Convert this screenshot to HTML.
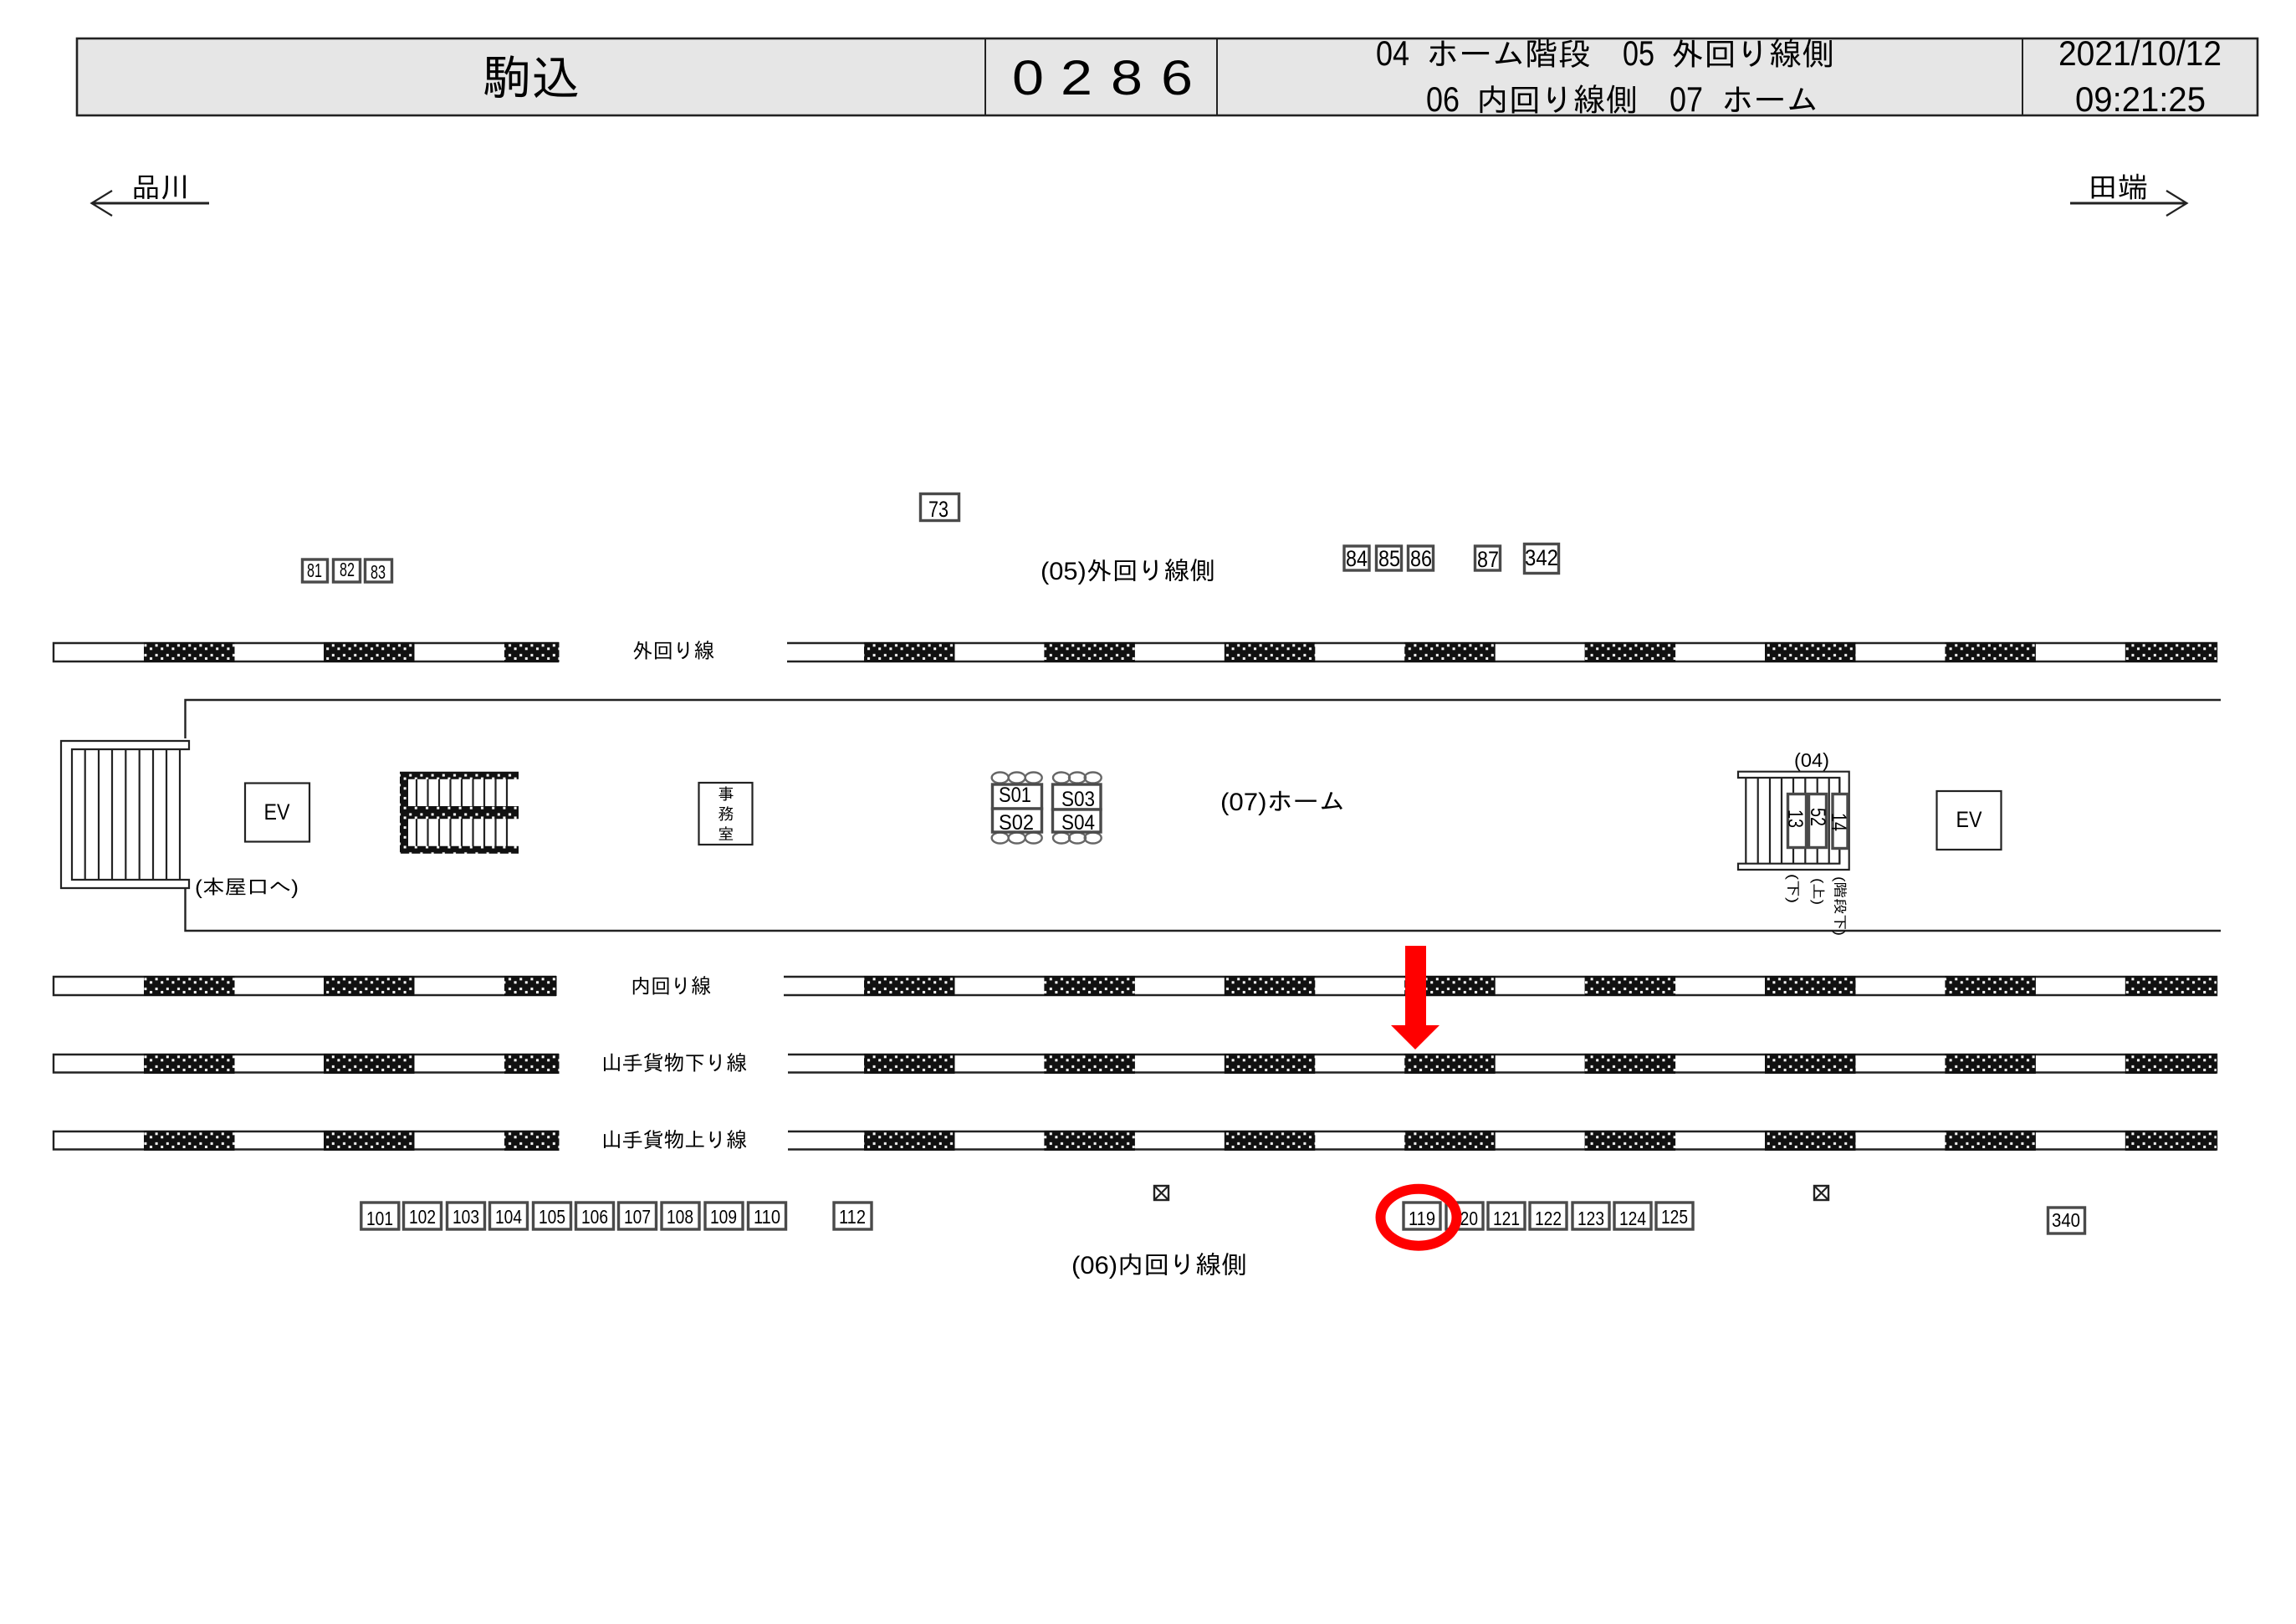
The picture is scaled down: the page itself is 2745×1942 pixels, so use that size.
<!DOCTYPE html>
<html lang="ja"><head><meta charset="utf-8"><title>駒込</title>
<style>
html,body{margin:0;padding:0;background:#fff;width:2745px;height:1942px;overflow:hidden}
svg{display:block}
text{font-family:"Liberation Sans","IPAGothic",sans-serif;fill:#000}
.b{fill:#fff;stroke:#4a4a4a;stroke-width:3.4}
.l{fill:none;stroke:#222;stroke-width:2.2}
.r{fill:none;stroke:#222;stroke-width:2.4}
.c{fill:none;stroke:#666;stroke-width:2.4}
.n{font-size:23px;text-anchor:middle}
.m{font-size:27px;text-anchor:middle}
</style></head><body>
<svg width="2745" height="1942" viewBox="0 0 2745 1942" xmlns="http://www.w3.org/2000/svg">
<defs>
<pattern id="d" patternUnits="userSpaceOnUse" width="13.2" height="11.7">
<rect width="13.2" height="11.7" fill="#111"/>
<rect x="0.8" y="1.3" width="3" height="3" fill="#fff"/>
<rect x="7.4" y="5.3" width="3" height="3" fill="#fff"/>
</pattern>
<g id="dL"><rect x="172" y="-1" width="108.5" height="24" fill="url(#d)"/><rect x="387" y="-1" width="108.5" height="24" fill="url(#d)"/></g>
<g id="dR"><rect x="1033" y="-1" width="108.5" height="24" fill="url(#d)"/><rect x="1248.4" y="-1" width="108.5" height="24" fill="url(#d)"/><rect x="1463.8" y="-1" width="108.5" height="24" fill="url(#d)"/><rect x="1679.2" y="-1" width="108.5" height="24" fill="url(#d)"/><rect x="1894.6" y="-1" width="108.5" height="24" fill="url(#d)"/><rect x="2110" y="-1" width="108.5" height="24" fill="url(#d)"/><rect x="2325.4" y="-1" width="108.5" height="24" fill="url(#d)"/><rect x="2540.8" y="-1" width="109" height="24" fill="url(#d)"/></g>
</defs>
<rect width="2745" height="1942" fill="#fff"/>

<!-- header -->
<rect x="92" y="46" width="2607" height="92" fill="#e6e6e6" stroke="#222" stroke-width="2.6"/>
<path d="M1178 46V138M1455 46V138M2418 46V138" stroke="#222" stroke-width="2" fill="none"/>
<text x="577" y="113" font-size="57" textLength="116" lengthAdjust="spacingAndGlyphs">駒込</text>
<text x="1210" y="113" font-size="58" textLength="38" lengthAdjust="spacingAndGlyphs">0</text>
<text x="1268" y="113" font-size="58" textLength="38" lengthAdjust="spacingAndGlyphs">2</text>
<text x="1328" y="113" font-size="58" textLength="38" lengthAdjust="spacingAndGlyphs">8</text>
<text x="1388" y="113" font-size="58" textLength="38" lengthAdjust="spacingAndGlyphs">6</text>

<text x="1645" y="78" font-size="42" textLength="40" lengthAdjust="spacingAndGlyphs">04</text>
<text x="1705" y="78" font-size="38" textLength="197" lengthAdjust="spacingAndGlyphs">ホーム階段</text>
<text x="1940" y="78" font-size="42" textLength="38" lengthAdjust="spacingAndGlyphs">05</text>
<text x="1998" y="78" font-size="38" textLength="195" lengthAdjust="spacingAndGlyphs">外回り線側</text>
<text x="1705" y="133" font-size="42" textLength="40" lengthAdjust="spacingAndGlyphs">06</text>
<text x="1765" y="133" font-size="38" textLength="193" lengthAdjust="spacingAndGlyphs">内回り線側</text>
<text x="1996" y="133" font-size="42" textLength="40" lengthAdjust="spacingAndGlyphs">07</text>
<text x="2058" y="133" font-size="38" textLength="116" lengthAdjust="spacingAndGlyphs">ホーム</text>
<text x="2461" y="78" font-size="42" textLength="195" lengthAdjust="spacingAndGlyphs">2021/10/12</text>
<text x="2481" y="133" font-size="42" textLength="156" lengthAdjust="spacingAndGlyphs">09:21:25</text>

<!-- direction arrows -->
<path d="M250 243H110" stroke="#222" stroke-width="3" fill="none"/><path d="M134 228L109.500 243L134 258" class="l"/>
<text x="157" y="236" font-size="34" textLength="70" lengthAdjust="spacingAndGlyphs">品川</text>
<path d="M2475 243H2614" stroke="#222" stroke-width="3" fill="none"/><path d="M2590 228L2614.500 243L2590 258" class="l"/>
<text x="2496" y="236" font-size="34" textLength="72" lengthAdjust="spacingAndGlyphs">田端</text>

<!-- upper boxes -->
<rect class="b" x="1100.500" y="590.500" width="46" height="32"/><text class="m" x="1122" y="618" textLength="24" lengthAdjust="spacingAndGlyphs">73</text>
<rect class="b" x="361.500" y="669" width="30" height="27"/><text class="n" x="376" y="690" textLength="18" lengthAdjust="spacingAndGlyphs">81</text>
<rect class="b" x="398.500" y="669" width="32" height="27"/><text class="n" x="415" y="689" textLength="18" lengthAdjust="spacingAndGlyphs">82</text>
<rect class="b" x="436.500" y="669" width="32" height="27"/><text class="n" x="452" y="692" textLength="18" lengthAdjust="spacingAndGlyphs">83</text>
<rect class="b" x="1607" y="653" width="30" height="29"/><text class="m" x="1622" y="677" textLength="26" lengthAdjust="spacingAndGlyphs">84</text>
<rect class="b" x="1645.500" y="653" width="30" height="29"/><text class="m" x="1661" y="677" textLength="26" lengthAdjust="spacingAndGlyphs">85</text>
<rect class="b" x="1683.500" y="653" width="30" height="29"/><text class="m" x="1699" y="677" textLength="26" lengthAdjust="spacingAndGlyphs">86</text>
<rect class="b" x="1763.500" y="653" width="30" height="29"/><text class="m" x="1779" y="678" textLength="26" lengthAdjust="spacingAndGlyphs">87</text>
<rect class="b" x="1822.500" y="650.500" width="41" height="35"/><text class="m" x="1843" y="676" textLength="40" lengthAdjust="spacingAndGlyphs">342</text>

<text x="1244" y="693" font-size="30" textLength="209" lengthAdjust="spacingAndGlyphs">(05)外回り線側</text>

<!-- rails -->
<g transform="translate(0,769)"><path class="r" d="M668 0H64V22H668M941 0H2650V22H941"/><use href="#dL"/><rect x="603" y="-1" width="65.500" height="24" fill="url(#d)"/><use href="#dR"/></g>
<g transform="translate(0,1168)"><path class="r" d="M665 0H64V22H665M937 0H2650V22H937"/><use href="#dL"/><rect x="603" y="-1" width="62.500" height="24" fill="url(#d)"/><use href="#dR"/></g>
<g transform="translate(0,1261)"><path class="r" d="M668 0H64V21.500H668M942 0H2650V21.500H942"/><use href="#dL"/><rect x="603" y="-1" width="65.500" height="24" fill="url(#d)"/><use href="#dR"/></g>
<g transform="translate(0,1353)"><path class="r" d="M668 0H64V21.500H668M942 0H2650V21.500H942"/><use href="#dL"/><rect x="603" y="-1" width="65.500" height="24" fill="url(#d)"/><use href="#dR"/></g>

<text x="756" y="787" font-size="25" textLength="98" lengthAdjust="spacingAndGlyphs">外回り線</text>
<text x="754" y="1188" font-size="25" textLength="96" lengthAdjust="spacingAndGlyphs">内回り線</text>
<text x="719" y="1280" font-size="25" textLength="174" lengthAdjust="spacingAndGlyphs">山手貨物下り線</text>
<text x="719" y="1372" font-size="25" textLength="174" lengthAdjust="spacingAndGlyphs">山手貨物上り線</text>

<!-- platform -->
<path d="M2655 837H221.500V883M221.500 1062V1113H2655" class="r"/>

<!-- left stair -->
<path class="l" d="M226 896V886H73V1062H226V1052H86V896Z"/>
<path class="l" d="M101.700 896V1052M118 896V1052M134 896V1052M150.300 896V1052M166.700 896V1052M183 896V1052M199 896V1052M215 896V1052"/>
<text x="233" y="1069" font-size="24" textLength="124" lengthAdjust="spacingAndGlyphs">(本屋口へ)</text>

<!-- EV -->
<rect class="l" x="293" y="936.500" width="77" height="70"/><text x="331" y="980" font-size="27" text-anchor="middle" textLength="31" lengthAdjust="spacingAndGlyphs">EV</text>
<rect class="l" x="2315.500" y="946" width="77" height="70"/><text x="2354" y="989" font-size="27" text-anchor="middle" textLength="31" lengthAdjust="spacingAndGlyphs">EV</text>

<!-- dark stair -->
<path class="l" d="M498 925V1019M511.500 925V1019M525 925V1019M538.500 925V1019M552 925V1019M565.500 925V1019M579 925V1019M592.500 925V1019M606 925V1019"/>
<path fill="url(#d)" d="M478 922.700H620V931.700H488V964H620V979.300H488V1011.700H620V1020.700H478Z"/>

<!-- office -->
<rect class="l" x="835.500" y="936" width="64" height="74"/>
<text x="868" y="956" font-size="19" text-anchor="middle">事</text>
<text x="868" y="980" font-size="19" text-anchor="middle">務</text>
<text x="868" y="1004" font-size="19" text-anchor="middle">室</text>

<!-- S group -->
<g><ellipse cx="1195.700" cy="930" rx="10" ry="6.500" class="c"/><ellipse cx="1215.700" cy="930" rx="10" ry="6.500" class="c"/><ellipse cx="1235.700" cy="930" rx="10" ry="6.500" class="c"/><ellipse cx="1269" cy="930" rx="10" ry="6.500" class="c"/><ellipse cx="1288" cy="930" rx="10" ry="6.500" class="c"/><ellipse cx="1306.700" cy="930" rx="10" ry="6.500" class="c"/><ellipse cx="1195.700" cy="1002" rx="10" ry="6.500" class="c"/><ellipse cx="1215.700" cy="1002" rx="10" ry="6.500" class="c"/><ellipse cx="1235.700" cy="1002" rx="10" ry="6.500" class="c"/><ellipse cx="1269" cy="1002" rx="10" ry="6.500" class="c"/><ellipse cx="1288" cy="1002" rx="10" ry="6.500" class="c"/><ellipse cx="1306.700" cy="1002" rx="10" ry="6.500" class="c"/></g>
<rect class="b" x="1186.500" y="938" width="59" height="29"/><rect class="b" x="1186.500" y="967" width="59" height="28"/>
<rect class="b" x="1258.500" y="938" width="57.500" height="30"/><rect class="b" x="1258.500" y="968" width="57.500" height="27"/>
<text x="1194" y="959" font-size="25" textLength="39" lengthAdjust="spacingAndGlyphs">S01</text>
<text x="1194" y="992" font-size="25" textLength="42" lengthAdjust="spacingAndGlyphs">S02</text>
<text x="1269" y="964" font-size="25" textLength="40" lengthAdjust="spacingAndGlyphs">S03</text>
<text x="1269" y="992" font-size="25" textLength="40" lengthAdjust="spacingAndGlyphs">S04</text>

<text x="1459" y="969" font-size="30" textLength="149" lengthAdjust="spacingAndGlyphs">(07)ホーム</text>

<!-- right stair -->
<text x="2145" y="917" font-size="23" textLength="42" lengthAdjust="spacingAndGlyphs">(04)</text>
<path class="l" d="M2199.300 930H2078V922.700H2210.700V1040H2078V1032.700H2199.300Z"/>
<path class="l" d="M2087.300 930V1033M2101.700 930V1033M2116 930V1033M2130 930V1033M2144 930V1033M2158.300 930V1033M2172.700 930V1033M2186.700 930V1033M2199.300 930V1033"/>
<rect class="b" x="2137.500" y="949.500" width="22" height="64"/>
<rect class="b" x="2162.500" y="949.500" width="21" height="64"/>
<rect class="b" x="2191" y="949.500" width="18" height="65"/>
<text transform="translate(2138,968) rotate(90)" font-size="25" textLength="22" lengthAdjust="spacingAndGlyphs">13</text>
<text transform="translate(2165,966) rotate(90)" font-size="25" textLength="22" lengthAdjust="spacingAndGlyphs">52</text>
<text transform="translate(2190,972) rotate(90)" font-size="25" textLength="22" lengthAdjust="spacingAndGlyphs">14</text>
<text transform="translate(2138,1045) rotate(90)" font-size="17" textLength="35" lengthAdjust="spacingAndGlyphs">(下)</text>
<text transform="translate(2168,1050) rotate(90)" font-size="17" textLength="32" lengthAdjust="spacingAndGlyphs">(上)</text>
<text transform="translate(2194,1048) rotate(90)" font-size="17" textLength="71" lengthAdjust="spacingAndGlyphs">(階段下)</text>

<!-- marker boxes -->
<rect x="1380" y="1418" width="17" height="17" fill="none" stroke="#222" stroke-width="2.4"/><path class="l" d="M1380 1418L1397 1435M1397 1418L1380 1435"/>
<rect x="2169" y="1418" width="17" height="17" fill="none" stroke="#222" stroke-width="2.4"/><path class="l" d="M2169 1418L2186 1435M2186 1418L2169 1435"/>

<!-- bottom boxes -->
<g>
<rect class="b" x="431.800" y="1438" width="45" height="32"/><text class="n" x="454" y="1465" textLength="32" lengthAdjust="spacingAndGlyphs">101</text>
<rect class="b" x="482.500" y="1438" width="45" height="32"/><text class="n" x="505" y="1463" textLength="32" lengthAdjust="spacingAndGlyphs">102</text>
<rect class="b" x="534.500" y="1438" width="45" height="32"/><text class="n" x="557" y="1463" textLength="32" lengthAdjust="spacingAndGlyphs">103</text>
<rect class="b" x="585.500" y="1438" width="45" height="32"/><text class="n" x="608" y="1463" textLength="32" lengthAdjust="spacingAndGlyphs">104</text>
<rect class="b" x="637.500" y="1438" width="45" height="32"/><text class="n" x="660" y="1463" textLength="32" lengthAdjust="spacingAndGlyphs">105</text>
<rect class="b" x="688.500" y="1438" width="45" height="32"/><text class="n" x="711" y="1463" textLength="32" lengthAdjust="spacingAndGlyphs">106</text>
<rect class="b" x="739.500" y="1438" width="45" height="32"/><text class="n" x="762" y="1463" textLength="32" lengthAdjust="spacingAndGlyphs">107</text>
<rect class="b" x="791" y="1438" width="45" height="32"/><text class="n" x="813" y="1463" textLength="32" lengthAdjust="spacingAndGlyphs">108</text>
<rect class="b" x="843" y="1438" width="45" height="32"/><text class="n" x="865" y="1463" textLength="32" lengthAdjust="spacingAndGlyphs">109</text>
<rect class="b" x="894.500" y="1438" width="45" height="32"/><text class="n" x="917" y="1463" textLength="32" lengthAdjust="spacingAndGlyphs">110</text>
<rect class="b" x="997" y="1438" width="45" height="32"/><text class="n" x="1019" y="1463" textLength="32" lengthAdjust="spacingAndGlyphs">112</text>
<rect class="b" x="1678" y="1438" width="44" height="32"/><text class="n" x="1700" y="1465" textLength="32" lengthAdjust="spacingAndGlyphs">119</text>
<rect class="b" x="1729" y="1438" width="44" height="32"/><text class="n" x="1751" y="1465" textLength="32" lengthAdjust="spacingAndGlyphs">120</text>
<rect class="b" x="1779" y="1438" width="44" height="32"/><text class="n" x="1801" y="1465" textLength="32" lengthAdjust="spacingAndGlyphs">121</text>
<rect class="b" x="1829" y="1438" width="44" height="32"/><text class="n" x="1851" y="1465" textLength="32" lengthAdjust="spacingAndGlyphs">122</text>
<rect class="b" x="1880" y="1438" width="44" height="32"/><text class="n" x="1902" y="1465" textLength="32" lengthAdjust="spacingAndGlyphs">123</text>
<rect class="b" x="1930" y="1438" width="44" height="32"/><text class="n" x="1952" y="1465" textLength="32" lengthAdjust="spacingAndGlyphs">124</text>
<rect class="b" x="1980" y="1438" width="44" height="32"/><text class="n" x="2002" y="1463" textLength="32" lengthAdjust="spacingAndGlyphs">125</text>
<rect class="b" x="2448.500" y="1444" width="44" height="31"/><text class="n" x="2470" y="1467" textLength="34" lengthAdjust="spacingAndGlyphs">340</text>
</g>

<text x="1281" y="1523" font-size="30" textLength="210" lengthAdjust="spacingAndGlyphs">(06)内回り線側</text>

<!-- red annotations -->
<path d="M1680 1131H1705V1226H1721L1692 1255L1663 1226H1680Z" fill="#ff0000"/>
<ellipse cx="1696" cy="1455.700" rx="45.500" ry="34" fill="none" stroke="#ff0000" stroke-width="12"/>
</svg>
</body></html>
